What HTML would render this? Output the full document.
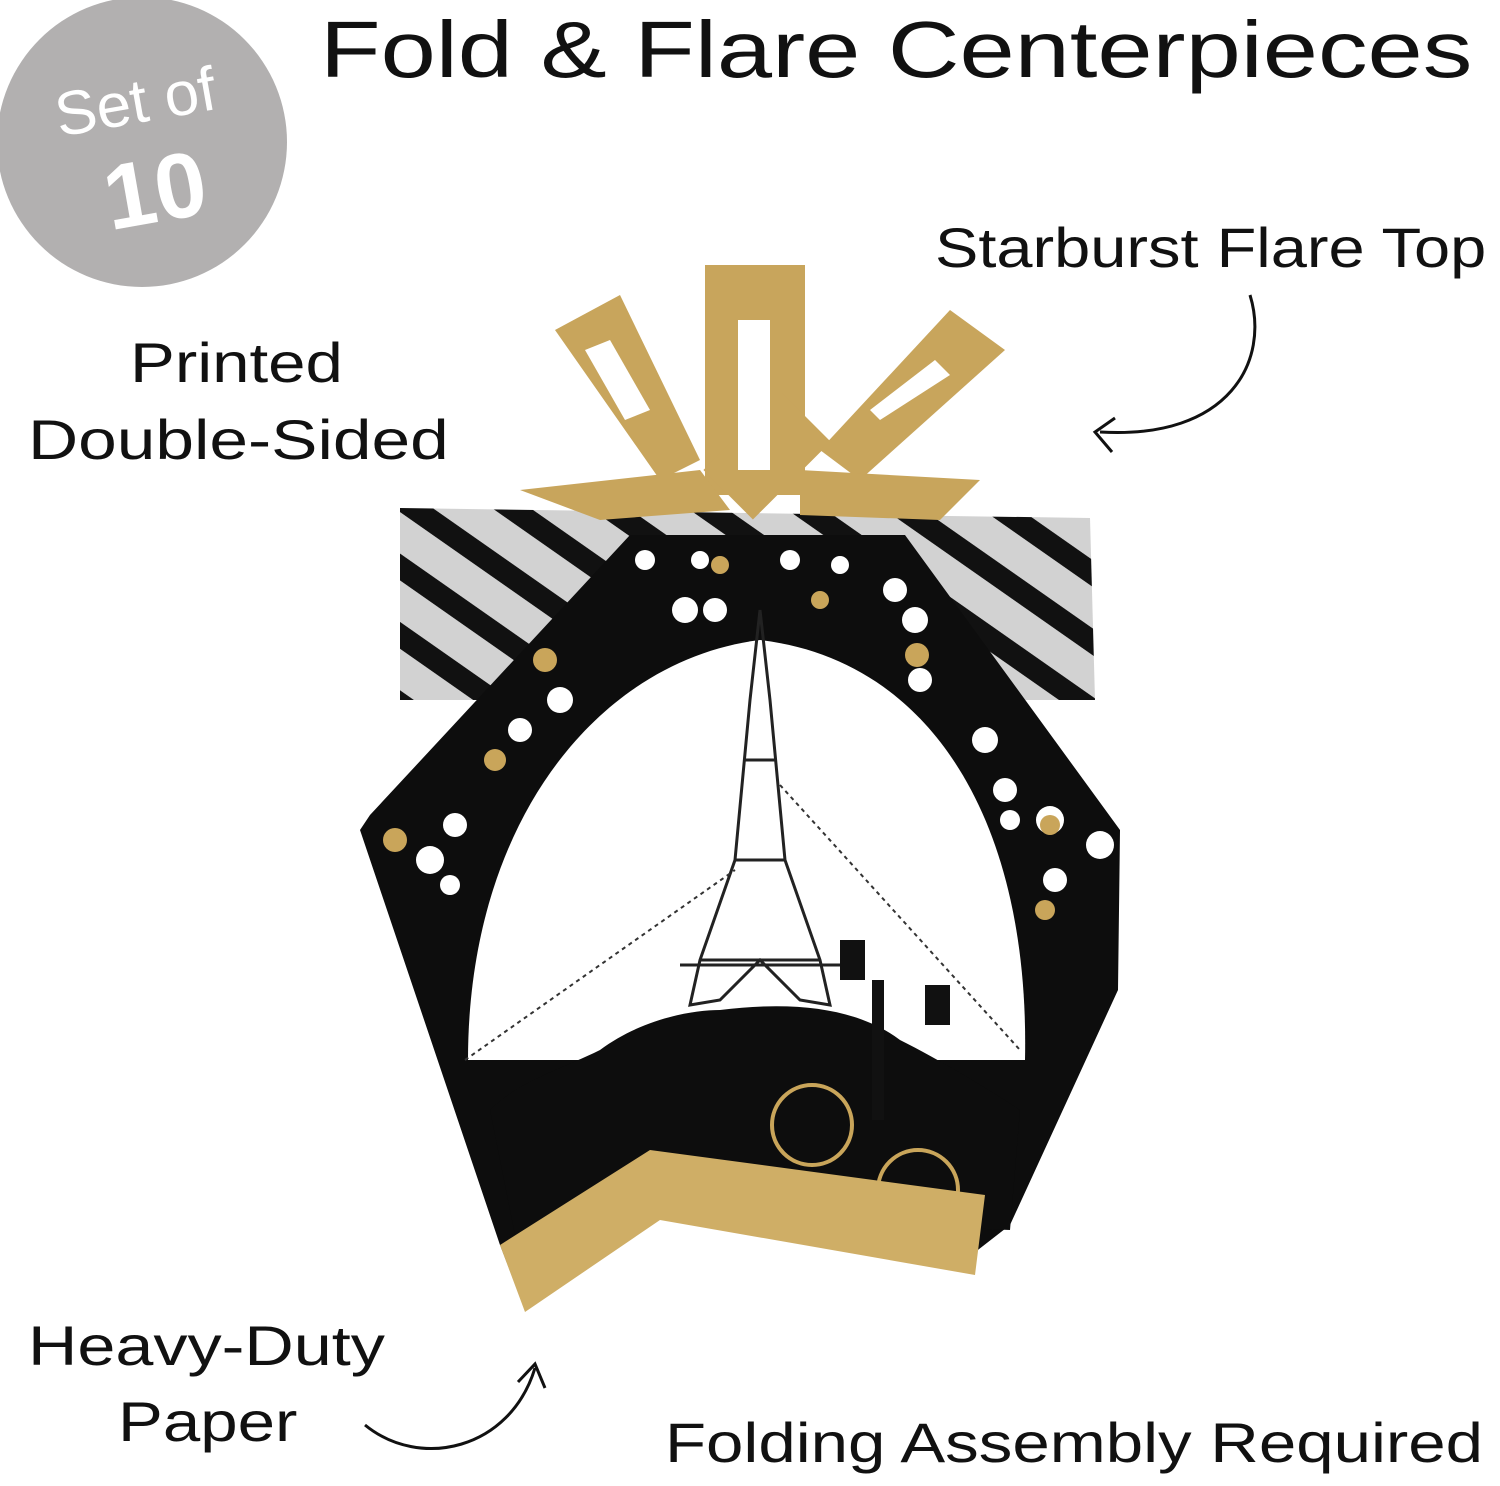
<!DOCTYPE html>
<html><head><meta charset="utf-8"><style>
html,body{margin:0;padding:0;background:#fff;}
body{width:1500px;height:1486px;position:relative;overflow:hidden;font-family:"Liberation Sans",sans-serif;}
.t{position:absolute;color:#111;white-space:nowrap;line-height:1;transform-origin:0 0;}
</style></head><body>
<svg width="1500" height="1486" style="position:absolute;left:0;top:0">
<defs>
<pattern id="st" width="56" height="56" patternUnits="userSpaceOnUse" patternTransform="rotate(35)">
<rect width="56" height="56" fill="#d2d2d2"/><rect width="56" height="22" fill="#111"/>
</pattern>
</defs>
<circle cx="142" cy="142" r="145" fill="#b2b0b0"/>
<text x="135" y="123" font-size="62" fill="#fff" text-anchor="middle" transform="rotate(-10 135 100)">Set of</text>
<text x="155" y="222" font-size="92" font-weight="bold" fill="#fff" text-anchor="middle" transform="rotate(-10 155 190)">10</text>
<polygon points="400,508 1090,518 1095,700 400,700" fill="url(#st)"/>
<path d="M630,535 L905,535 L1120,830 L1118,990 L1010,1225 L965,1260 L660,1215 L525,1310 L500,1245 L360,830 L370,815 Z" fill="#0d0d0d"/>
<path d="M468,1060 C468,820 600,660 760,640 C930,660 1030,820 1025,1060 Z" fill="#fff"/>
<path d="M490,1110 C520,1080 560,1070 600,1050 C640,1020 690,1010 720,1010 C800,1000 860,1010 900,1040 C940,1060 990,1090 1020,1110 L1010,1230 L660,1215 L520,1260 Z" fill="#0d0d0d"/>
<g fill="none" stroke="#222" stroke-width="3">
<path d="M760,610 L750,700 L735,860 L700,960 L690,1005 L720,1000 L760,960 L800,1000 L830,1005 L820,960 L785,860 L770,700 Z"/>
<line x1="735" y1="860" x2="785" y2="860"/><line x1="745" y1="760" x2="775" y2="760"/><line x1="700" y1="960" x2="820" y2="960"/>
<line x1="680" y1="965" x2="840" y2="965"/>
</g>
<line x1="465" y1="1060" x2="735" y2="870" stroke="#333" stroke-width="2" stroke-dasharray="4,4"/>
<line x1="780" y1="785" x2="1020" y2="1050" stroke="#333" stroke-width="2" stroke-dasharray="4,4"/>
<rect x="872" y="980" width="12" height="140" fill="#111"/>
<rect x="840" y="940" width="25" height="40" fill="#111"/><rect x="925" y="985" width="25" height="40" fill="#111"/>
<circle cx="812" cy="1125" r="40" fill="none" stroke="#c9a55a" stroke-width="4"/>
<circle cx="918" cy="1190" r="40" fill="none" stroke="#c9a55a" stroke-width="4"/>
<g fill="#fff">
<circle cx="645" cy="560" r="10"/><circle cx="700" cy="560" r="9"/><circle cx="790" cy="560" r="10"/><circle cx="840" cy="565" r="9"/>
<circle cx="685" cy="610" r="13"/><circle cx="715" cy="610" r="12"/><circle cx="895" cy="590" r="12"/><circle cx="915" cy="620" r="13"/>
<circle cx="560" cy="700" r="13"/><circle cx="520" cy="730" r="12"/><circle cx="920" cy="680" r="12"/><circle cx="985" cy="740" r="13"/>
<circle cx="430" cy="860" r="14"/><circle cx="455" cy="825" r="12"/><circle cx="1005" cy="790" r="12"/><circle cx="1050" cy="820" r="14"/>
<circle cx="1100" cy="845" r="14"/><circle cx="450" cy="885" r="10"/><circle cx="1055" cy="880" r="12"/><circle cx="1010" cy="820" r="10"/>
</g>
<g fill="#c9a55a">
<circle cx="720" cy="565" r="9"/><circle cx="820" cy="600" r="9"/><circle cx="545" cy="660" r="12"/><circle cx="495" cy="760" r="11"/>
<circle cx="395" cy="840" r="12"/><circle cx="917" cy="655" r="12"/><circle cx="1045" cy="910" r="10"/><circle cx="1050" cy="825" r="10"/>
</g>
<polygon points="500,1245 650,1150 985,1195 975,1275 660,1220 525,1312" fill="#cfae66"/>
<g fill="#c8a55c">
<rect x="705" y="265" width="100" height="230"/>
<rect x="720" y="430" width="110" height="70" transform="rotate(-45 760 470)"/>
<polygon points="555,330 620,295 700,460 660,480"/>
<polygon points="950,310 1005,350 860,480 820,450"/>
<polygon points="520,490 700,470 730,510 600,520"/>
<polygon points="800,470 980,480 940,520 800,515"/>
</g>
<g fill="#fff">
<rect x="738" y="320" width="32" height="150"/>
<polygon points="585,350 610,340 650,410 625,420"/>
<polygon points="935,360 950,375 880,420 870,410"/>
</g>
<path d="M1250,295 C1270,360 1230,440 1100,432" fill="none" stroke="#111" stroke-width="3"/>
<path d="M1115,418 L1095,432 L1112,452" fill="none" stroke="#111" stroke-width="3"/>
<path d="M365,1425 C420,1470 510,1450 535,1368" fill="none" stroke="#111" stroke-width="3"/>
<path d="M518,1382 L535,1364 L545,1388" fill="none" stroke="#111" stroke-width="3"/>
</svg>
<div class="t" style="left:320px;top:10px;font-size:80px;transform:scaleX(1.24)">Fold &amp; Flare Centerpieces</div>
<div class="t" style="left:935px;top:220px;font-size:56px;transform:scaleX(1.16)">Starburst Flare Top</div>
<div class="t" style="left:130px;top:335px;font-size:56px;transform:scaleX(1.2)">Printed</div>
<div class="t" style="left:28px;top:412px;font-size:56px;transform:scaleX(1.24)">Double-Sided</div>
<div class="t" style="left:28px;top:1318px;font-size:56px;transform:scaleX(1.22)">Heavy-Duty</div>
<div class="t" style="left:118px;top:1394px;font-size:56px;transform:scaleX(1.2)">Paper</div>
<div class="t" style="left:665px;top:1415px;font-size:56px;transform:scaleX(1.2)">Folding Assembly Required</div>
</body></html>
